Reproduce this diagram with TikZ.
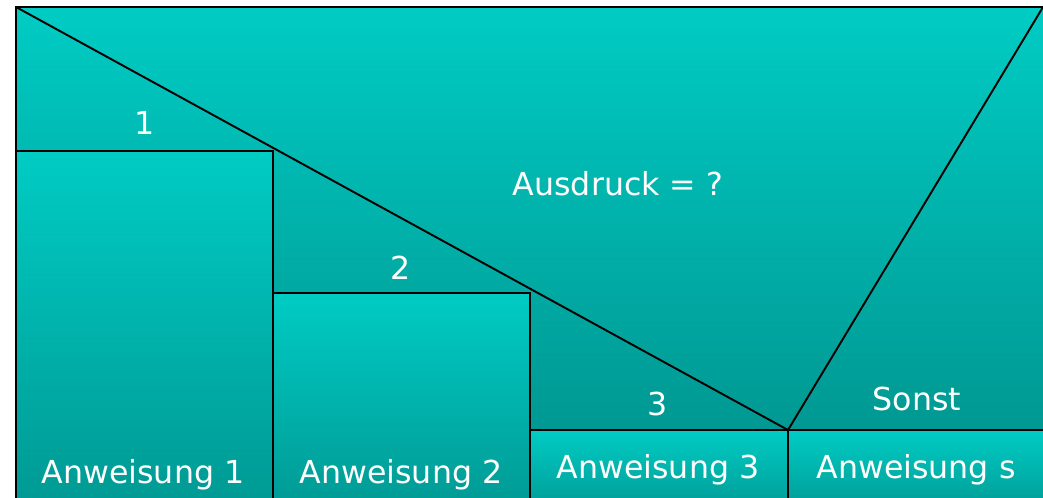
\documentclass[tikz,border=0pt]{standalone}
\usepackage{fontspec}
\setmainfont{DejaVu Sans}
\usetikzlibrary{calc}
\definecolor{tealtop}{RGB}{0,204,196}
\definecolor{tealbot}{RGB}{0,152,146}

\begin{document}
\begin{tikzpicture}[x=0.02cm, y=0.02cm, line width=1.1pt,
  every node/.style={text=white, font=\fontsize{18}{20}\selectfont, anchor=base, inner sep=0pt},
  field/.style={draw=black, top color=tealtop, bottom color=tealbot}]
  \useasboundingbox (0,0) rectangle (1043,-497);
  \clip (0,0) rectangle (1043,-497);

  \coordinate (TL) at (16,-7);
  \coordinate (TR) at (1043,-7);
  \coordinate (M) at (788,-430);

  % head with the condition
  \draw[field] (TL) rectangle (1070,-430);
  \draw (TL) -- (M) -- (TR);

  % the branches
  \draw[field] (16,-151) rectangle (273,-515);
  \draw[field] (273,-293) rectangle (530,-515);
  \draw[field] (530,-430) rectangle (788,-515);
  \draw[field] (M) rectangle (1070,-515);

  \node (cond) at (618,-195) {Ausdruck = ?};
  \node (c1) at (145,-134) {1};
  \node (c2) at (401,-279) {2};
  \node (c3) at (658,-415) {3};
  \node (cs) at (917,-410) {Sonst};

  \node (a1) at (143,-483) {Anweisung 1};
  \node (a2) at (401,-483) {Anweisung 2};
  \node (a3) at (658,-478) {Anweisung 3};
  \node (as) at (916,-478) {Anweisung s};
\end{tikzpicture}
\end{document}
